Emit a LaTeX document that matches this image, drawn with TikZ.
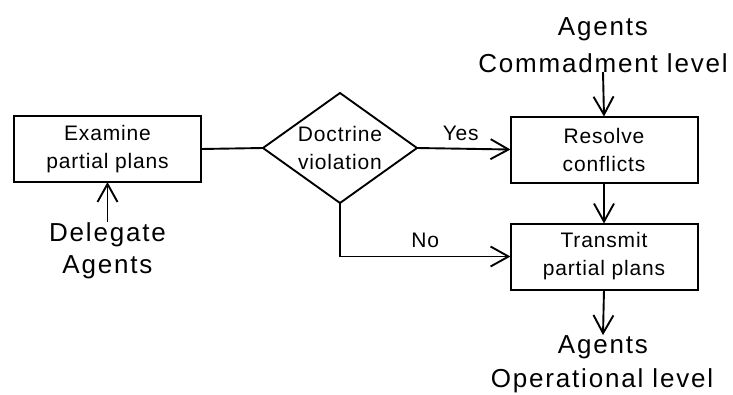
\documentclass[tikz,border=0pt]{standalone}
\usepackage{fontspec}
\setmainfont{Liberation Sans}
\newfontfamily\bxfamily[LetterSpace=4]{Liberation Sans}
\newfontfamily\lblfamily[LetterSpace=7]{Liberation Sans}
\newcommand\bxfont{\bxfamily\fontsize{21}{28}\selectfont}
\newcommand\lblfont{\lblfamily\fontsize{26}{34}\selectfont}
\usetikzlibrary{arrows.meta,shapes.geometric}

\begin{document}
\begin{tikzpicture}[x=1pt,y=-1pt,
  every node/.style={inner sep=0pt, outer sep=0pt},
  stepbox/.style={draw, line width=2pt, minimum width=187pt, minimum height=66pt,
    align=center, font=\bxfont},
  decision/.style={draw, diamond, shape aspect=1.4, line width=1.9pt,
    minimum width=154pt, minimum height=110pt, align=center, font=\bxfont},
  flow/.style={line width=1.9pt},
  arr/.style={flow, -{Straight Barb[length=18pt,width=20pt,line width=1.9pt]}},
  edgelbl/.style={font=\bxfont},
  outerlbl/.style={font=\lblfont, anchor=base}
]
\useasboundingbox (0,0) rectangle (733,394);

% process steps
\node[stepbox] (examine) at (107.5,149) {Examine\\partial plans};
\node[decision] (decision) at (340,148) {Doctrine\\violation};
\node[stepbox] (resolve) at (604,149.5) {Resolve\\conflicts};
\node[stepbox] (transmit) at (604,256.5) {Transmit\\partial plans};

% outside agents
\node[outerlbl] (delA) at (107.5,241) {Delegate};
\node[outerlbl] (delB) at (107.5,273) {Agents};
\node[outerlbl] (cmdA) at (603,35) {Agents};
\node[outerlbl] (cmdB) at (603,72) {Commadment level};
\node[outerlbl] (opA) at (603,353) {Agents};
\node[outerlbl] (opB) at (602,387) {Operational level};

% connectors
\draw[flow] (examine.east) -- (decision.west);
\draw[arr] (decision.east) -- node[edgelbl, midway, above=8pt, xshift=-3pt] {Yes} (resolve.west);
\draw[arr] (decision.south) |- node[edgelbl, pos=0.75, above=9pt] {No} (transmit.west);
\draw[arr] (resolve.south) -- (transmit.north);
\draw[arr] (cmdB.base) -- (resolve.north);
\draw[arr] (transmit.south) -- (opA.north);
\draw[arr] (delA.north) -- (examine.south);
\end{tikzpicture}
\end{document}
